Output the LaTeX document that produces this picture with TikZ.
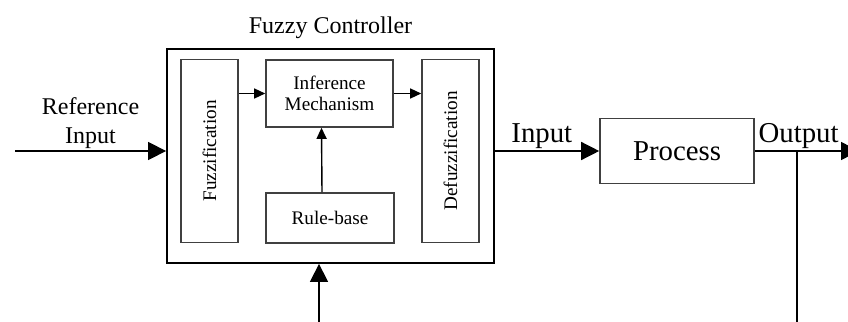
\documentclass[tikz,border=0pt]{standalone}
\usepackage{fontspec}
\setmainfont{Liberation Serif}
\usepackage{graphicx}
\usetikzlibrary{arrows.meta, positioning}

\tikzset{
  blk/.style={draw=black!75, line width=0.8pt, inner sep=0pt, align=center},
  small/.style={font=\fontsize{9.6}{10.5}\selectfont},
  big/.style={font=\fontsize{14.4}{16}\selectfont},
  lbl/.style={above, inner sep=1pt, align=center},
  sm/.style={-{Triangle[length=5.5pt, width=5pt]}},
}

\begin{document}
\begin{tikzpicture}[x=0.5pt, y=-0.5pt, >={Triangle[length=9pt, width=9pt]}, line width=0.7pt,
    font=\fontsize{12}{14.5}\selectfont]
  \clip (0,0) rectangle (848,322);
  % controller and its blocks
  \node[draw, line width=0.9pt, minimum width=163.5pt, minimum height=107pt] (ctrl) at (330.5,156) {};
  \node[above=1pt of ctrl] (title) {Fuzzy Controller};
  \node[blk, small, minimum width=28.5pt, minimum height=91.5pt] (fuzz) at (209.5,151) {\rotatebox{90}{Fuzzification}};
  \node[blk, small, minimum width=63.5pt, minimum height=33.5pt] (inf) at (329.5,93.5) {Inference\\Mechanism};
  \node[blk, small, minimum width=64pt, minimum height=25pt] (rule) at (330,218) {Rule-base};
  \node[blk, small, minimum width=28.5pt, minimum height=91.5pt] (defuzz) at (450.5,151) {\rotatebox{90}{Defuzzification}};
  \node[blk, big, minimum width=77pt, minimum height=32.5pt] (proc) at (677,151) {Process};
  \coordinate (refin) at (15,151);
  \coordinate (out) at (859,151);
  \coordinate (junc) at (797,151);
  \coordinate (fb) at (319,330);
  % connectors
  \draw[sm] (fuzz.east |- inf.west) -- (inf.west);
  \draw[sm] (inf.east) -- (defuzz.west |- inf.east);
  \draw[sm] ([xshift=-4pt]rule.north) -- ([xshift=-4pt]inf.south);
  \draw[->] (refin) -- (refin -| ctrl.west) node[lbl, midway]{Reference\\Input};
  \draw[->] (ctrl.east |- proc.west) -- (proc.west) node[lbl, big, pos=0.45]{Input};
  \draw[->] (proc.east) -- (out) node[lbl, big, pos=0.42]{Output};
  \draw[->] (junc) |- (fb) -- (fb |- ctrl.south);
\end{tikzpicture}
\end{document}
